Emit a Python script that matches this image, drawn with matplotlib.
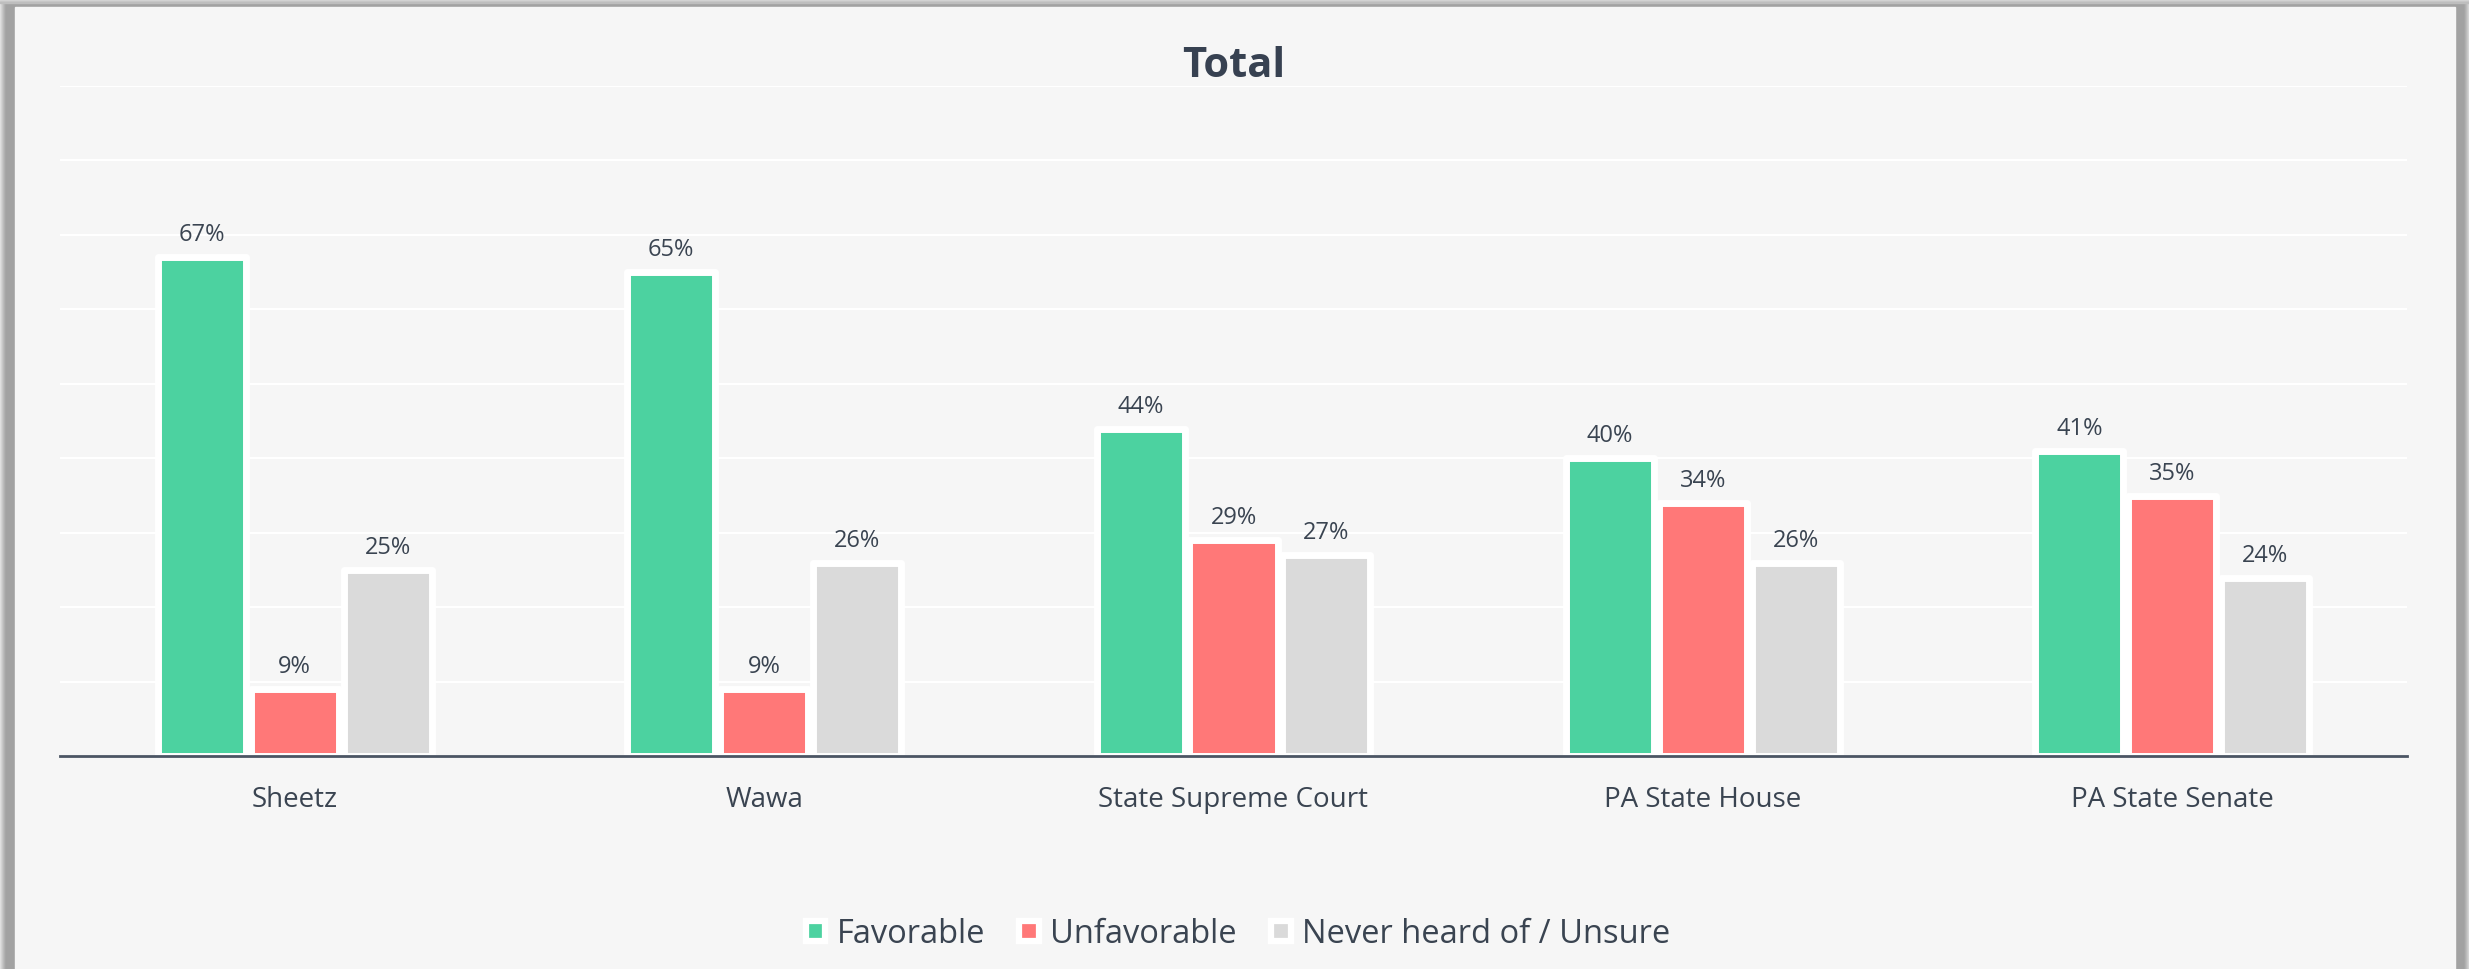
import matplotlib
matplotlib.use("Agg")
import matplotlib.pyplot as plt
from matplotlib.patches import Rectangle, Patch
import numpy as np

plt.rcParams['font.family'] = ['Open Sans', 'DejaVu Sans']

# data
categories = ['Sheetz', 'Wawa', 'State Supreme Court', 'PA State House', 'PA State Senate']
favorable = [67, 65, 44, 40, 41]
unfavorable = [9, 9, 29, 34, 35]
unsure = [25, 26, 27, 26, 24]
series_names = ['Favorable', 'Unfavorable', 'Never heard of / Unsure']

colors = ['#4cd2a0', '#ff7878', '#dadada']
text_col = '#3a4451'

W, H = 2469, 970
fig = plt.figure(figsize=(W / 100, H / 100), dpi=100)
fig.patch.set_facecolor('#a2a2a2')

def frac(x0, y0, w, h):
    # pixel box (top-left origin) -> figure fraction
    return (x0 / W, 1 - (y0 + h) / H), w / W, h / H

# soft shadow frame
shades = ['#e2e2e2', '#d6d6d6', '#cacaca', '#bebebe', '#b2b2b2', '#a8a8a8', '#a2a2a2']
for i, c in enumerate(shades):
    xy, w, h = frac(i, 0, 1, H)
    fig.add_artist(Rectangle(xy, w, h, transform=fig.transFigure, color=c, zorder=-2))
    xy, w, h = frac(W - 1 - i, 0, 1, H)
    fig.add_artist(Rectangle(xy, w, h, transform=fig.transFigure, color=c, zorder=-2))
for i, c in enumerate(shades[:4]):
    xy, w, h = frac(0, i, W, 1)
    fig.add_artist(Rectangle(xy, w, h, transform=fig.transFigure, color=c, zorder=-2))

# light panel
xy, w, h = frac(15, 8, 2455 - 15, H - 8)
fig.add_artist(Rectangle(xy, w, h, transform=fig.transFigure, color='#f6f6f6', zorder=-1))

ax = fig.add_axes([60 / W, 1 - 757.3 / H, (2407 - 60) / W, (757.3 - 87) / H])
ax.patch.set_alpha(0)

x = np.arange(len(categories))
width = 0.1876
step = 0.198
for k, (vals, c, name) in enumerate(zip([favorable, unfavorable, unsure], colors, series_names)):
    pos = x + (k - 1) * step
    ax.bar(pos, vals, width, color=c, edgecolor='white', linewidth=5, zorder=2,
           joinstyle='round', label=name)
    for xi, v in zip(pos, vals):
        ax.annotate(f'{v}%', (xi, v), xytext=(0, 12.2), textcoords='offset points',
                    ha='center', va='baseline', fontsize=17, color=text_col)

ax.set_xlim(-0.5, len(categories) - 0.5)
ax.set_ylim(0, 90)
ax.set_yticks(range(0, 91, 10))
ax.yaxis.grid(True, color='white', linewidth=1.6)
ax.set_axisbelow(True)
ax.tick_params(left=False, bottom=False, labelleft=False, labelbottom=False)
for s in ['left', 'right', 'top']:
    ax.spines[s].set_visible(False)
ax.spines['bottom'].set_color('#4b5563')
ax.spines['bottom'].set_linewidth(2)
ax.spines['bottom'].set_zorder(3)

for xi, cat in zip(x, categories):
    ax.annotate(cat, (xi, 0), xycoords=('data', 'axes fraction'), xytext=(0, -35.8),
                textcoords='offset points', ha='center', va='baseline',
                fontsize=20, color=text_col)

fig.text(1234 / W, 1 - 76.7 / H, 'Total', ha='center', va='baseline', fontsize=30,
         fontweight='bold', color='#374151')

handles = [Patch(facecolor=c, edgecolor='white', linewidth=4.5) for c in colors]
fig.legend(handles, series_names, loc='center', bbox_to_anchor=(1238 / W, 1 - 935 / H),
           ncol=3, frameon=False, fontsize=23.5, labelcolor=text_col,
           handlelength=0.6, handleheight=0.6, handletextpad=0.35, columnspacing=1.05)

fig.savefig('out.png', dpi=100, facecolor=fig.get_facecolor())
